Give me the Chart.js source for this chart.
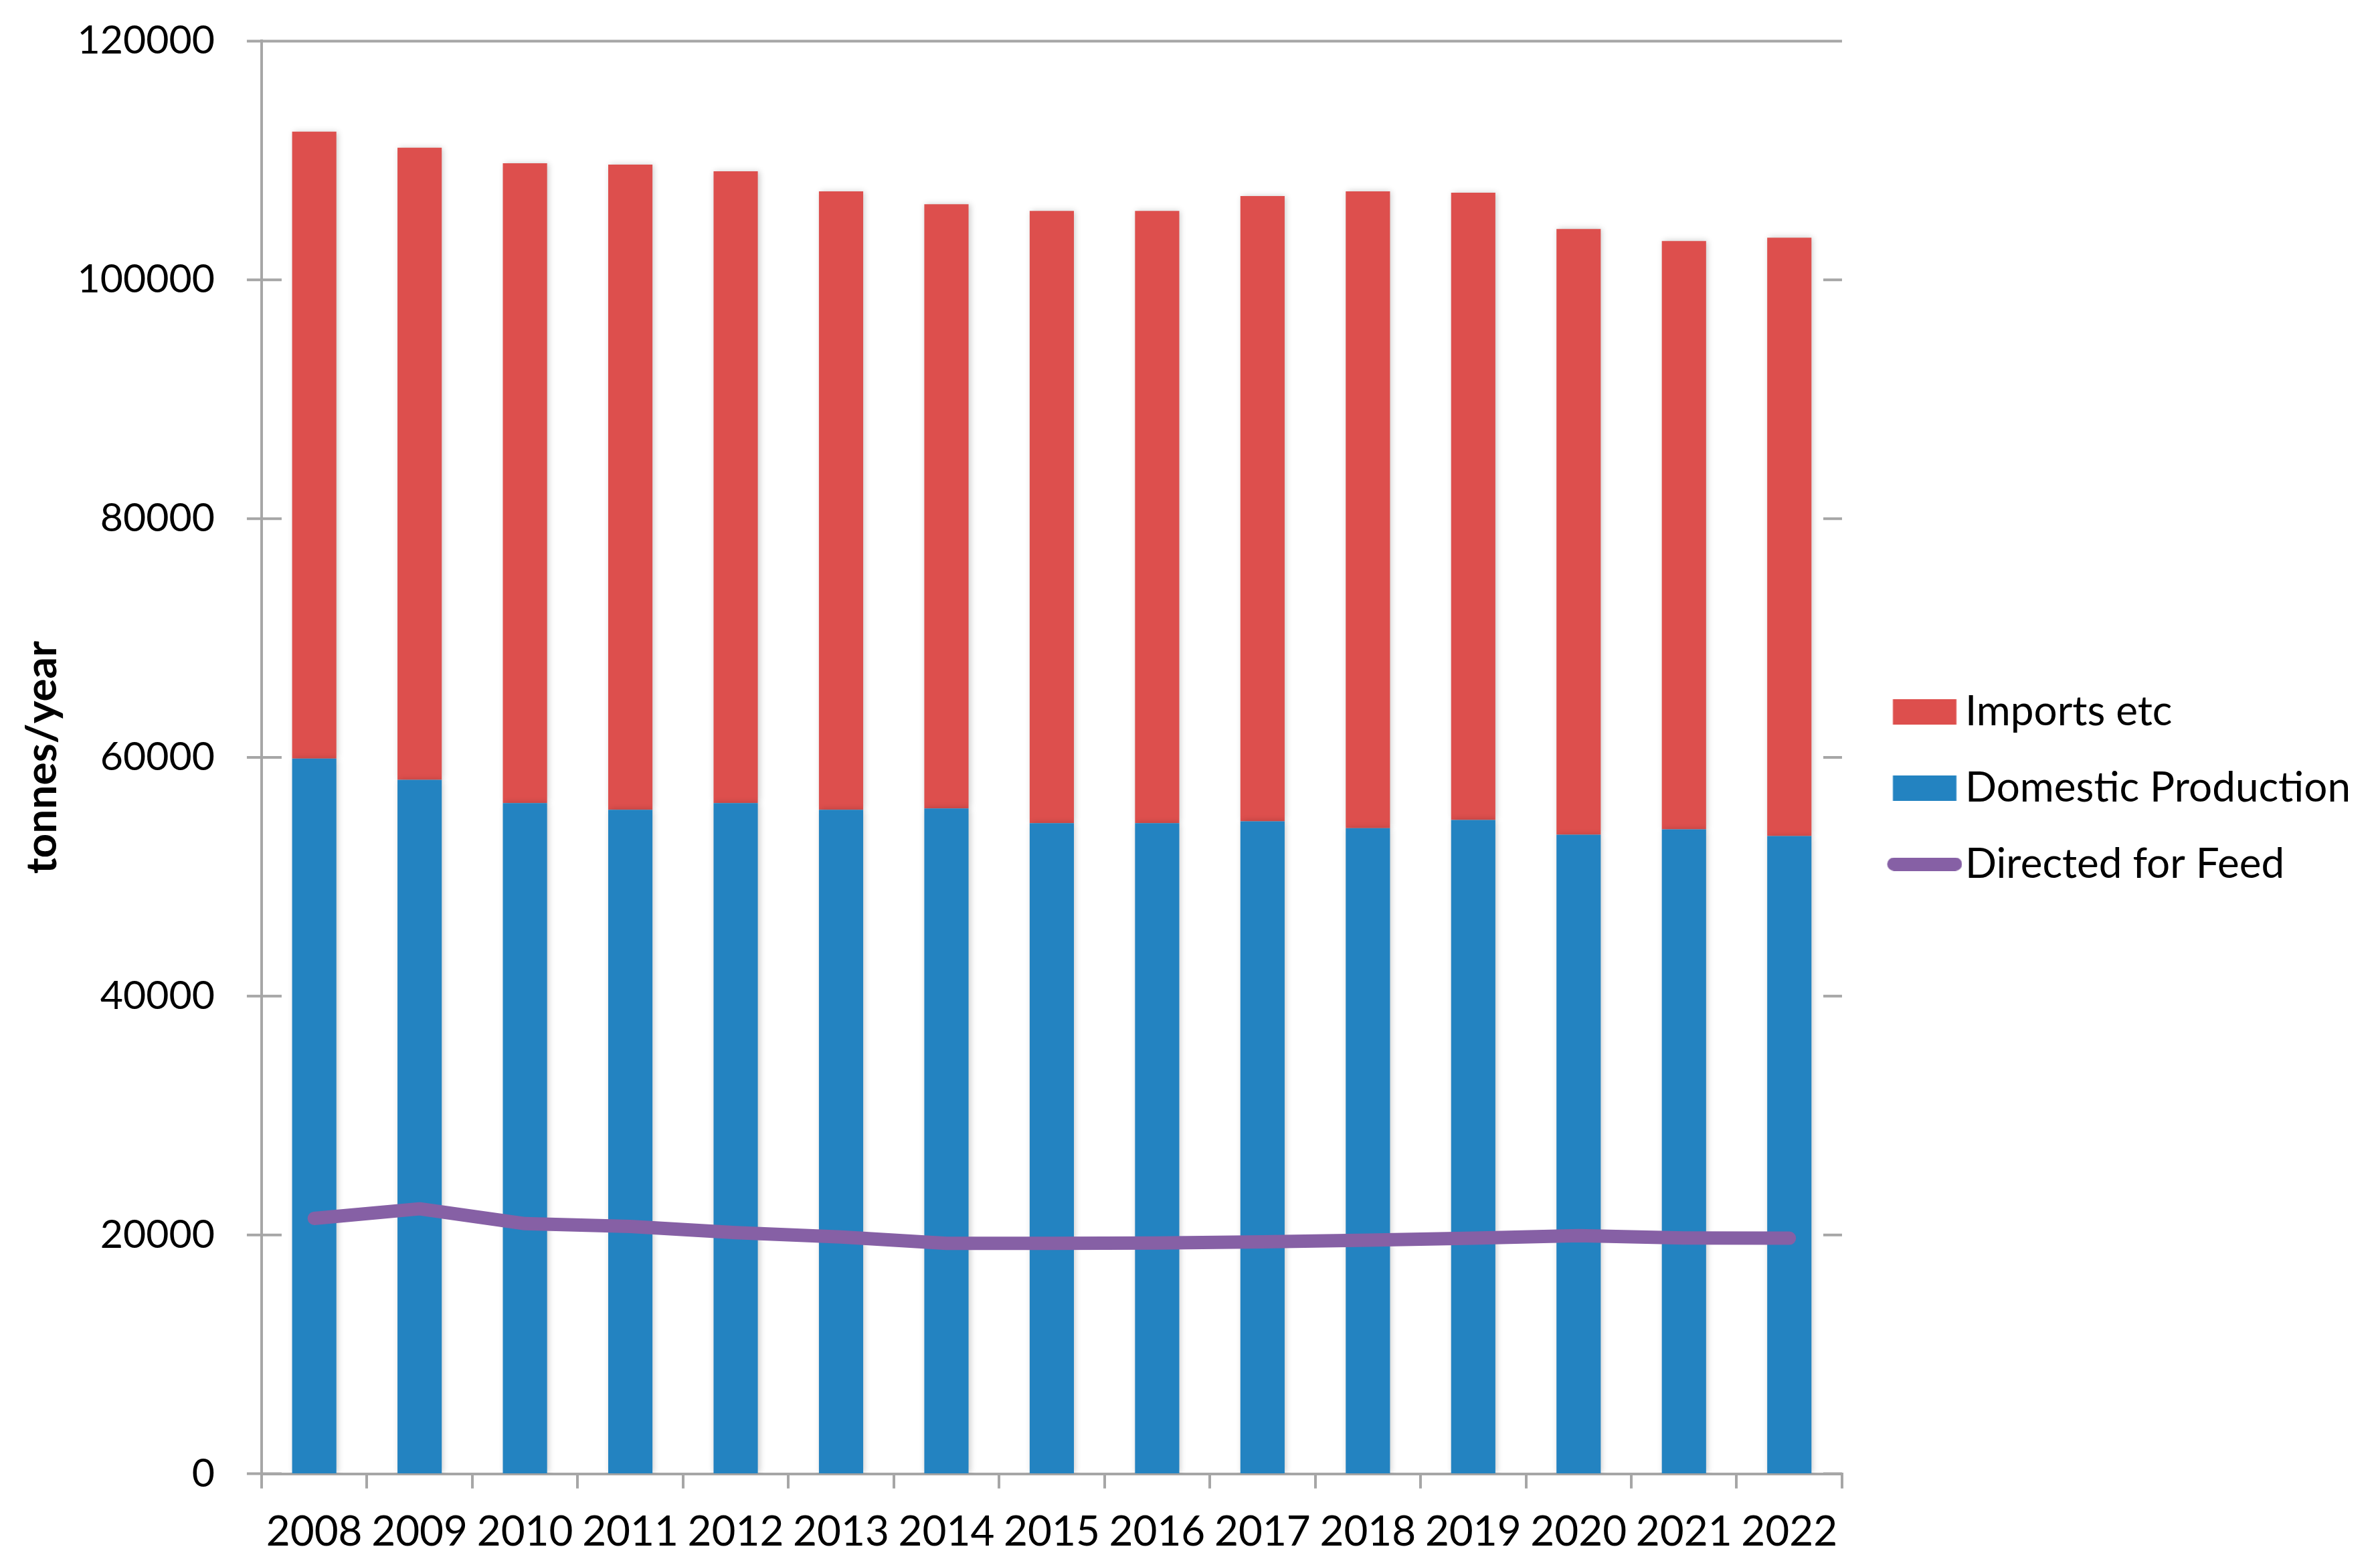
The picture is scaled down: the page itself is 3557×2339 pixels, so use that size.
<!DOCTYPE html>
<html>
<head>
<meta charset="utf-8">
<script src="https://cdn.jsdelivr.net/npm/chart.js@4"></script>
<style>
  html, body { margin: 0; padding: 0; background: #fff; }
  #wrap { width: 3557px; height: 2339px; }
</style>
</head>
<body>
<div id="wrap"><canvas id="myChart" width="3557" height="2339"></canvas></div>
<script>
var years = ['2008', '2009', '2010', '2011', '2012', '2013', '2014', '2015',
             '2016', '2017', '2018', '2019', '2020', '2021', '2022'];
var domestic = [59900, 58120, 56180, 55620, 56180, 55620, 55730, 54500,
                54500, 54650, 54080, 54760, 53520, 53970, 53410];
var imports = [52520, 52950, 53590, 54040, 52920, 51790, 50610, 51280,
               51280, 52370, 53330, 52540, 50740, 49280, 50120];
var feed = [21390, 22190, 20950, 20710, 20200, 19830, 19300, 19300,
            19330, 19430, 19560, 19730, 19940, 19750, 19730];
var yTicks = [0, 20000, 40000, 60000, 80000, 100000, 120000];

var RED = '#DD4F4D', BLUE = '#2383C1', PURPLE = '#8660A5', AXIS = '#A6A6A6';
var FONT = 'Lato';

// legend symbols, drawn a bit right of the slot centre
var SYM_W = 154, SHIFT = 21;
function makeBox(color, w, h) {
    var c = document.createElement('canvas');
    c.width = SYM_W; c.height = h;
    var g = c.getContext('2d');
    g.fillStyle = color;
    g.fillRect(SYM_W / 2 + SHIFT - w / 2, 0, w, h);
    return c;
}
function makeLine(color, w, h) {
    var c = document.createElement('canvas');
    c.width = SYM_W; c.height = h;
    var g = c.getContext('2d');
    var cx = SYM_W / 2 + SHIFT;
    g.strokeStyle = color;
    g.lineWidth = h;
    g.lineCap = 'round';
    g.beginPath();
    g.moveTo(cx - w / 2 + h / 2, h / 2);
    g.lineTo(cx + w / 2 - h / 2, h / 2);
    g.stroke();
    return c;
}
var symbols = [makeBox(BLUE, 95, 38), makeBox(RED, 95, 38), makeLine(PURPLE, 112, 20)];
var legendOrder = [1, 0, 2];

// Excel-like axis bits: crossing ticks, right inner ticks, top line, bar shadow
var axisExtras = {
    id: 'axisExtras',
    beforeDatasetDraw: function(chart, args) {
        if (args.meta.type === 'bar') {
            chart.ctx.save();
            chart.ctx.shadowColor = 'rgba(0,0,0,0.22)';
            chart.ctx.shadowBlur = 9;
            chart.ctx.shadowOffsetX = 2;
        }
    },
    afterDatasetDraw: function(chart, args) {
        if (args.meta.type === 'bar') chart.ctx.restore();
    },
    afterDraw: function(chart) {
        var ctx = chart.ctx, a = chart.chartArea, y = chart.scales.y;
        ctx.save();
        ctx.strokeStyle = AXIS;
        ctx.lineWidth = 4;
        ctx.beginPath();
        yTicks.forEach(function(v) {
            var py = y.getPixelForValue(v);
            ctx.moveTo(a.left - 22, py); ctx.lineTo(a.left + 30, py);
            ctx.moveTo(a.right - 28, py); ctx.lineTo(a.right, py);
        });
        var top = y.getPixelForValue(120000);
        ctx.moveTo(a.left - 22, top); ctx.lineTo(a.right, top);
        ctx.stroke();
        ctx.restore();
    }
};

function draw() {
    var ctx = document.getElementById('myChart').getContext('2d');
    var chart = new Chart(ctx, {
        type: 'bar',
        data: {
            labels: years,
            datasets: [{
                label: 'Domestic Production',
                backgroundColor: BLUE,
                data: domestic,
                stack: 'supply',
                order: 1
            }, {
                label: 'Imports etc',
                backgroundColor: RED,
                data: imports,
                stack: 'supply',
                order: 1
            }, {
                type: 'line',
                label: 'Directed for Feed',
                borderColor: PURPLE,
                backgroundColor: PURPLE,
                borderWidth: 20,
                borderCapStyle: 'round',
                borderJoinStyle: 'round',
                pointRadius: 0,
                tension: 0,
                data: feed,
                stack: 'feed',
                order: 0
            }]
        },
        options: {
            responsive: false,
            animation: false,
            devicePixelRatio: 1,
            layout: { padding: { left: 31, top: 0, bottom: -16, right: 34 } },
            datasets: { bar: { barPercentage: 0.42, categoryPercentage: 1 } },
            scales: {
                x: {
                    stacked: true,
                    grid: { drawOnChartArea: false, color: AXIS, lineWidth: 4, tickLength: 22, offset: true },
                    border: { color: AXIS, width: 4 },
                    ticks: { color: '#000', font: { family: FONT, size: 62 }, padding: 28,
                             maxRotation: 0, autoSkip: false }
                },
                y: {
                    stacked: true,
                    min: 0, max: 120000,
                    afterBuildTicks: function(scale) {
                        scale.ticks = yTicks.map(function(v) { return { value: v }; });
                    },
                    // ticks themselves are drawn by axisExtras; this only reserves the room
                    grid: { drawOnChartArea: false, color: 'rgba(0,0,0,0)', tickLength: 44 },
                    border: { color: AXIS, width: 4 },
                    ticks: { color: '#000', font: { family: FONT, size: 59 }, padding: 26,
                             callback: function(v) { return String(v); } },
                    title: { display: true, text: 'tonnes/year', color: '#000',
                             font: { family: FONT, size: 64, weight: 'bold', lineHeight: 0.4 },
                             padding: { top: 20, bottom: 13 } }
                }
            },
            plugins: {
                tooltip: { enabled: false },
                legend: {
                    position: 'right',
                    labels: {
                        color: '#000',
                        font: { family: FONT, size: 62 },
                        usePointStyle: true,
                        pointStyleWidth: 101,
                        padding: 52,
                        generateLabels: function(chart) {
                            var items = Chart.defaults.plugins.legend.labels.generateLabels(chart);
                            items.forEach(function(it) { it.pointStyle = symbols[it.datasetIndex]; });
                            return items;
                        },
                        sort: function(a, b) {
                            return legendOrder.indexOf(a.datasetIndex) - legendOrder.indexOf(b.datasetIndex);
                        }
                    }
                }
            }
        },
        plugins: [axisExtras]
    });
}

Promise.all([
    document.fonts.load('62px Lato'),
    document.fonts.load('bold 64px Lato')
]).then(draw, draw);
</script>
</body>
</html>
